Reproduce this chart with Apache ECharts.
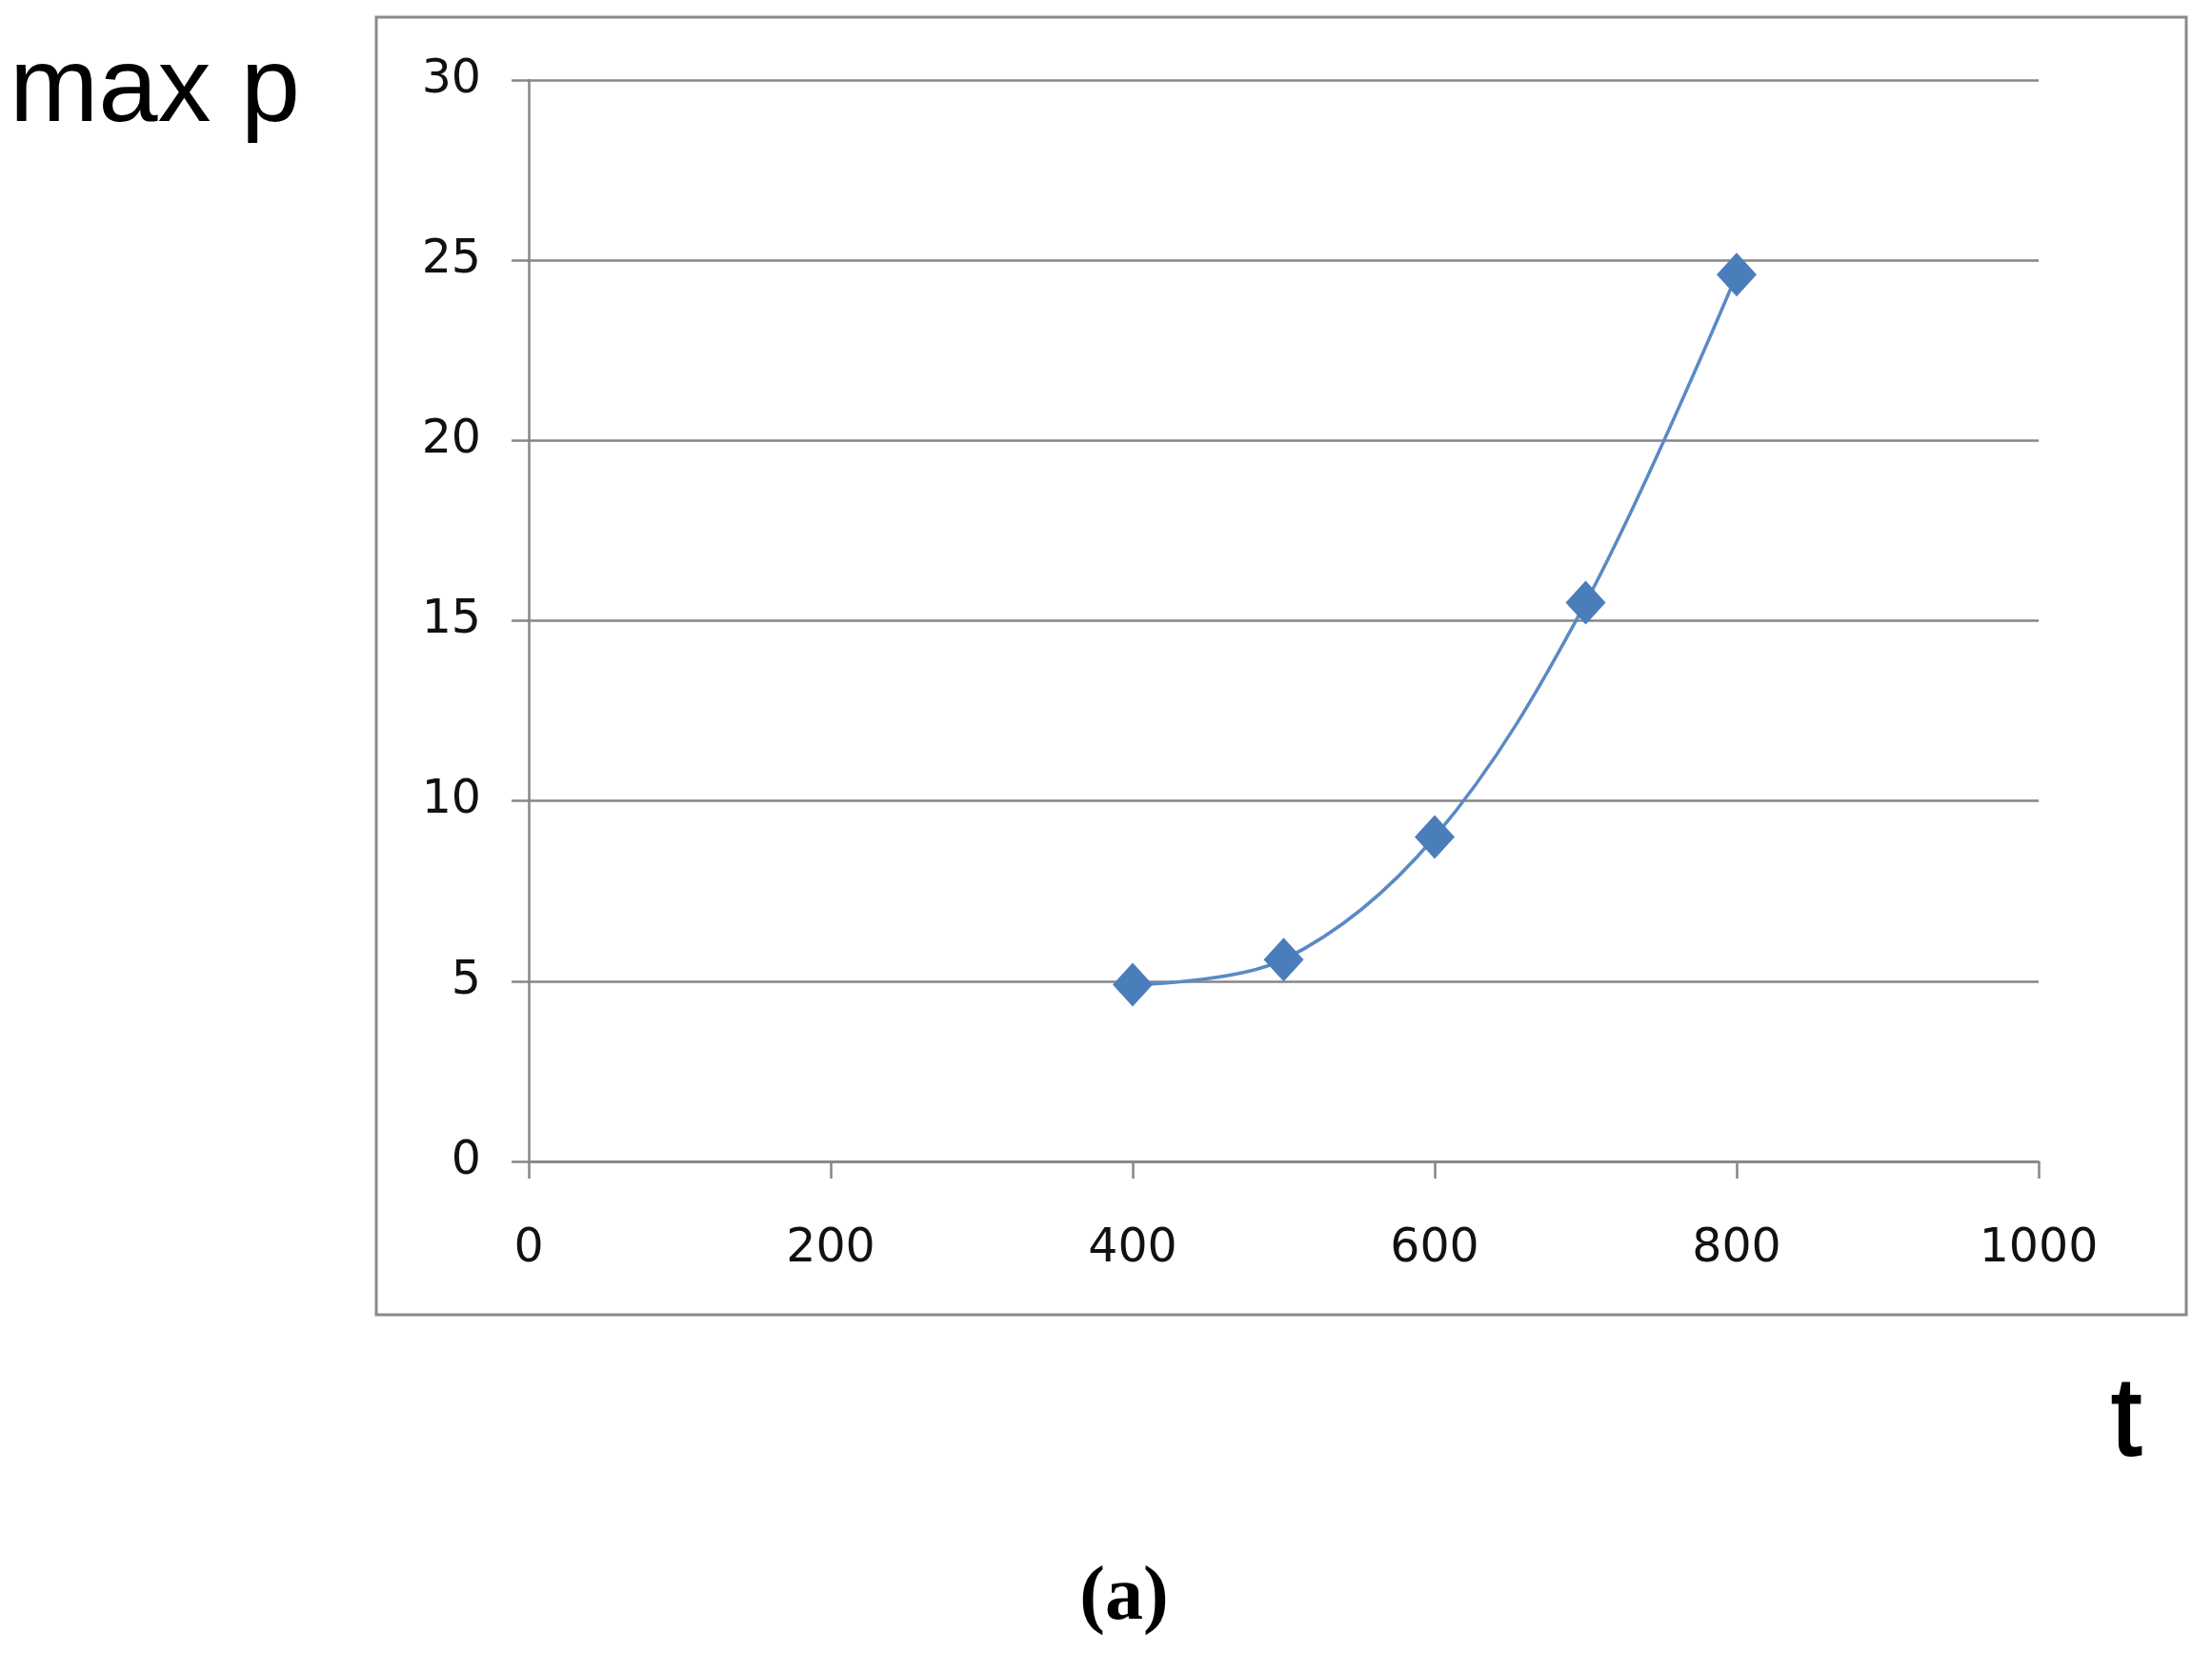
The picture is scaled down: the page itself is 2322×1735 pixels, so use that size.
<!DOCTYPE html>
<html>
<head>
<meta charset="utf-8">
<script src="https://cdn.jsdelivr.net/npm/echarts@6/dist/echarts.min.js"></script>
<style>
  html, body { margin: 0; padding: 0; background: #fff; }
  #chart { width: 2322px; height: 1735px; }
</style>
</head>
<body>
<div id="chart"></div>
<script>
// t values and max p
var tValues = [400, 500, 600, 700, 800];
var maxP = [4.9, 5.6, 9.0, 15.5, 24.6];
var xTicks = [0, 200, 400, 600, 800, 1000];
var yTicks = [0, 5, 10, 15, 20, 25, 30];

var gray = '#868686';
var blue = '#4A7EBB';

var chart = echarts.init(document.getElementById('chart'));

var points = tValues.map(function (t, i) { return [t, maxP[i]]; });

option = {
    backgroundColor: '#fff',
    animation: false,
    grid: {
        left: 555,
        right: 182,
        top: 84,
        bottom: 516
    },
    xAxis: {
        type: 'value',
        min: xTicks[0],
        max: xTicks[xTicks.length - 1],
        interval: 200,
        axisLine: { show: true, lineStyle: { color: gray, width: 2.5 } },
        axisTick: { show: true, inside: false, length: 18, lineStyle: { color: gray, width: 2.5 } },
        axisLabel: {
            margin: 68,
            color: '#111',
            fontFamily: 'DejaVu Sans',
            fontSize: 49,
            formatter: function (v) { return String(v); }
        },
        splitLine: { show: false }
    },
    yAxis: {
        type: 'value',
        min: yTicks[0],
        max: yTicks[yTicks.length - 1],
        interval: 5,
        axisLine: { show: true, lineStyle: { color: gray, width: 2.5 } },
        axisTick: { show: true, inside: false, length: 18, lineStyle: { color: gray, width: 2.5 } },
        axisLabel: {
            margin: 50,
            color: '#111',
            fontFamily: 'DejaVu Sans',
            fontSize: 49,
            padding: [18, 0, 0, 0]
        },
        splitLine: { show: true, lineStyle: { color: gray, width: 2.5 } }
    },
    graphic: [
        {
            type: 'rect',
            shape: { x: 395, y: 18, width: 1900, height: 1362 },
            style: { fill: 'none', stroke: '#8a8a8a', lineWidth: 3 },
            z: -1
        },
        {
            type: 'text',
            left: 10,
            top: 40,
            style: { text: 'max p', font: '112px "Liberation Sans"', fill: '#000' }
        },
        {
            type: 'text',
            left: 2215,
            top: 1436,
            style: { text: 't', font: '116px "Liberation Sans"', fill: '#000', stroke: '#000', lineWidth: 2 }
        },
        {
            type: 'text',
            x: 1180,
            y: 1678,
            style: {
                text: '(a)',
                font: 'bold 80px "Liberation Serif"',
                fill: '#000',
                align: 'center',
                verticalAlign: 'middle'
            }
        }
    ],
    series: [
        {
            type: 'line',
            data: points,
            smooth: 0.35,
            symbol: 'diamond',
            symbolSize: [42, 46],
            lineStyle: { color: '#5A8AC6', width: 3.5 },
            itemStyle: { color: blue }
        }
    ]
};
chart.setOption(option);
</script>
</body>
</html>
